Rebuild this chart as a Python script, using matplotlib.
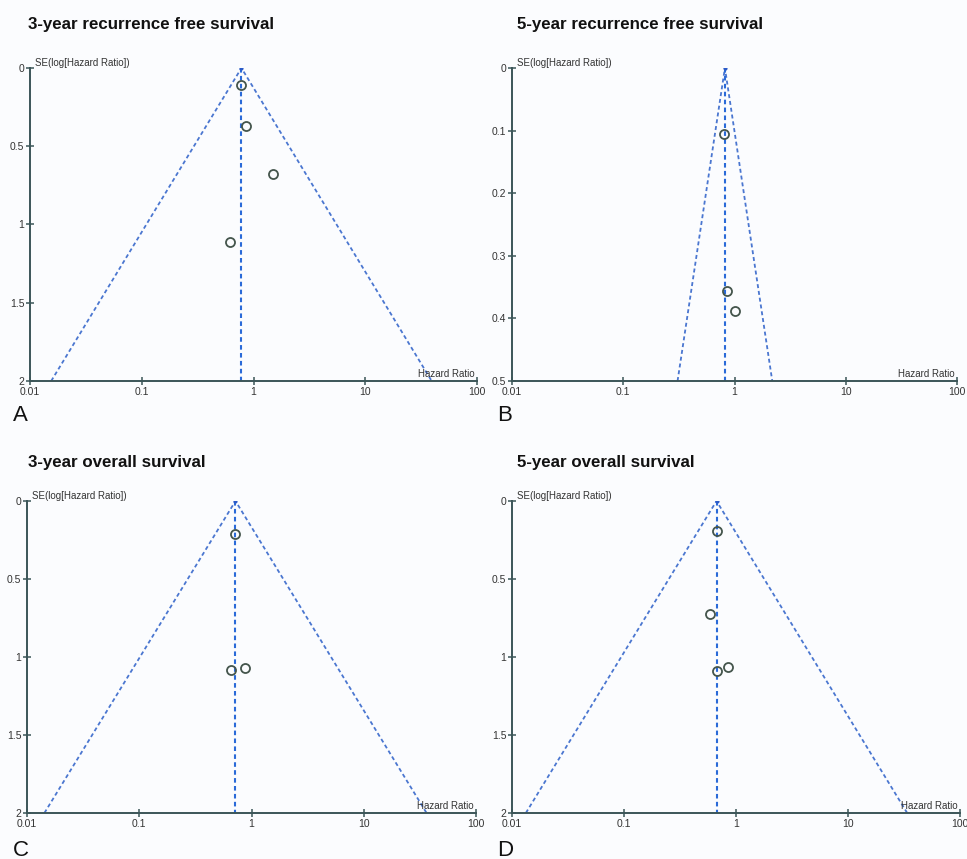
import matplotlib.pyplot as plt
import numpy as np

# values
titles = ["3-year recurrence free survival", "5-year recurrence free survival",
          "3-year overall survival", "5-year overall survival"]
letters = ["A", "B", "C", "D"]
pooled_hr = [0.78, 0.82, 0.72, 0.67]
se_max = [2, 0.5, 2, 2]
y_ticks = [[0, 0.5, 1, 1.5, 2], [0, 0.1, 0.2, 0.3, 0.4, 0.5],
           [0, 0.5, 1, 1.5, 2], [0, 0.5, 1, 1.5, 2]]
study_hr = [[0.78, 0.85, 1.48, 0.61],
            [0.80, 0.86, 1.00],
            [0.72, 0.66, 0.87],
            [0.67, 0.59, 0.67, 0.85]]
study_se = [[0.11, 0.37, 0.68, 1.11],
            [0.105, 0.356, 0.388],
            [0.21, 1.085, 1.07],
            [0.19, 0.725, 1.087, 1.067]]
x_ticks = [0.01, 0.1, 1, 10, 100]
x_labels = ["0.01", "0.1", "1", "10", "100"]

W, H = 967, 859
# axes boxes in pixels: left, top, right, bottom
boxes = [(30, 68, 477, 381), (512, 68, 957, 381),
         (27, 501, 476, 813), (512, 501, 960, 813)]
title_pos = [(28, 25), (517, 25), (28, 462), (517, 462)]
letter_pos = [(13, 415), (497, 415), (13, 850), (497, 850)]

plt.rcParams['font.family'] = ['Liberation Sans', 'DejaVu Sans']
axis_col = "#3b5558"
fig = plt.figure(figsize=(W / 100, H / 100), dpi=100, facecolor="#fbfcfe")

for i in range(4):
    l, t, r, b = boxes[i]
    ax = fig.add_axes([l / W, 1 - b / H, (r - l) / W, (b - t) / H])
    ax.set_facecolor("#fbfcfe")
    p = pooled_hr[i]
    z = 1.96 * se_max[i]
    lo, hi = p * np.exp(-z), p * np.exp(z)
    ax.plot([lo, p, hi], [se_max[i], 0, se_max[i]], ls=(0, (2.2, 1.6)), color="#4a76d0", lw=1.3)
    ax.plot([p, p], [0, se_max[i]], ls=(0, (2.2, 1.6)), color="#2a6ad8", lw=1.5)
    ax.plot([p], [0], "o", ms=2, color="#2a5ac8")
    ax.plot(study_hr[i], study_se[i], "o", ms=6.5, mfc="none", mec="#44554c", mew=1.3)

    ax.set_xscale("log")
    ax.set_xlim(0.01, 100)
    ax.set_ylim(se_max[i], 0)
    ax.set_xticks(x_ticks)
    ax.set_xticklabels(x_labels)
    ax.minorticks_off()
    ax.set_yticks(y_ticks[i])
    ax.set_yticklabels([f"{v:g}" for v in y_ticks[i]])
    for s in ["top", "right"]:
        ax.spines[s].set_visible(False)
    for s in ["left", "bottom"]:
        ax.spines[s].set_color(axis_col)
        ax.spines[s].set_linewidth(1.4)
    ax.tick_params(direction="inout", length=6, width=1.1, color=axis_col,
                   labelsize=7.5, labelcolor="#333333", pad=1)
    ax.text(0.012, 1.0, "SE(log[Hazard Ratio])", transform=ax.transAxes,
            fontsize=7, color="#333333", va="bottom", ha="left")
    ax.text(0.995, 0.005, "Hazard Ratio", transform=ax.transAxes,
            fontsize=7, color="#333333", va="bottom", ha="right")

    fig.text(title_pos[i][0] / W, 1 - title_pos[i][1] / H, titles[i],
             fontsize=12.2, fontweight="bold", va="center", ha="left", color="#111111")
    fig.text(letter_pos[i][0] / W, 1 - letter_pos[i][1] / H, letters[i],
             fontsize=16, va="center", ha="left", color="#111111")

fig.savefig("out.png", dpi=100, facecolor=fig.get_facecolor())
